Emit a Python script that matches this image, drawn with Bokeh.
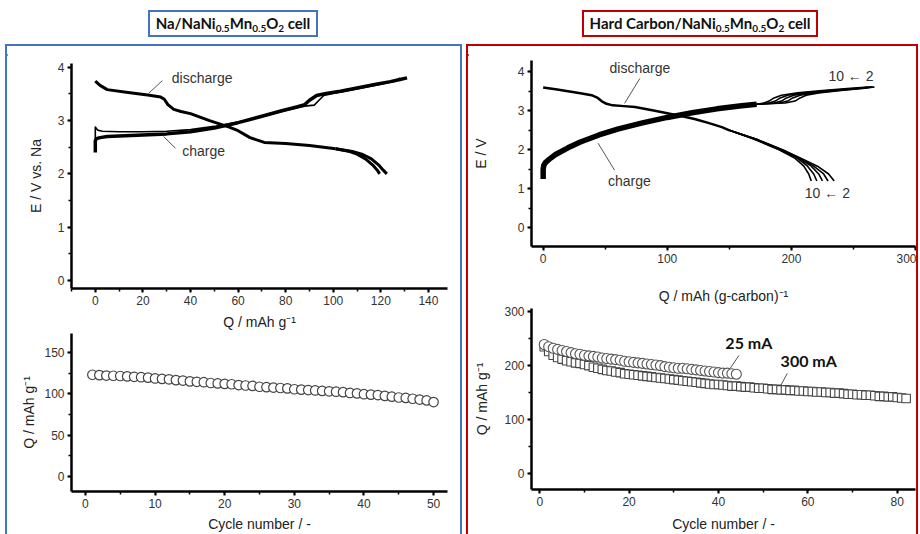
from bokeh.plotting import figure
from bokeh.models import Div, SingleIntervalTicker, Label, Range1d
from bokeh.layouts import column, row
from bokeh.embed import file_html
from bokeh.resources import INLINE

# ---------------- data ----------------
# panel a, top: Na / NaNi0.5Mn0.5O2 charge/discharge
dis_a_Q = [0, 2, 5, 13, 22, 27.5, 29, 30.5, 33, 36, 40, 48, 56, 60, 65, 71, 80, 90, 101]
dis_a_E = [3.74, 3.66, 3.58, 3.53, 3.48, 3.44, 3.40, 3.30, 3.21, 3.17, 3.13, 3.00, 2.88, 2.81, 2.68, 2.59, 2.57, 2.53, 2.47]
dis_a_tail_E = [2.47, 2.42, 2.37, 2.28, 2.17, 2.07, 2.00]
dis_a_tail_Q_first = [101, 108, 112, 116, 119, 121, 122.5]
dis_a_tail_Q_last = [101, 107, 110, 113.5, 116.5, 118.5, 119.5]

chg_a_Q = [0, 0, 0.5, 2, 5, 10, 20, 30, 40, 50, 60, 70, 78, 85, 88, 90, 93, 97, 103, 110, 118, 124, 128, 131]
chg_a_E = [2.40, 2.62, 2.66, 2.68, 2.70, 2.71, 2.73, 2.75, 2.79, 2.86, 2.96, 3.08, 3.18, 3.26, 3.30, 3.38, 3.47, 3.51, 3.55, 3.61, 3.68, 3.73, 3.77, 3.80]
chg_a1_Q = [0, 0, 1, 3, 10, 20, 30, 40, 50, 60, 70, 80, 88, 92, 94, 96, 100, 105, 112, 120, 126, 128]
chg_a1_E = [2.62, 2.88, 2.82, 2.80, 2.79, 2.79, 2.80, 2.83, 2.89, 2.97, 3.07, 3.19, 3.27, 3.29, 3.38, 3.47, 3.51, 3.55, 3.61, 3.68, 3.74, 3.80]

# panel a, bottom: capacity vs cycle
cyc_a = list(range(1, 51))
cap_a = [123, 122.5, 122, 121.8, 121.5, 121, 120.5, 120, 119.5, 118.5,
         118, 117.5, 116.5, 116, 115, 114.5, 114, 113, 112.5, 112,
         111.5, 110.5, 110, 109.5, 108.5, 108, 107.5, 107, 106.5, 105.5,
         105, 104.5, 104, 103.5, 103, 102.5, 102, 101, 100.5, 99.5,
         99, 98.5, 97.5, 96.5, 95.5, 95, 94, 93, 92, 90]

# panel b, top: hard carbon / NaNi0.5Mn0.5O2
dis_b_Q = [0, 10, 20, 30, 39, 44, 47, 51, 56, 65, 74, 90, 101, 112, 122, 133, 144, 150]
dis_b_E = [3.60, 3.55, 3.50, 3.45, 3.40, 3.33, 3.25, 3.18, 3.14, 3.12, 3.10, 3.00, 2.93, 2.86, 2.79, 2.69, 2.58, 2.50]
dis_b_tail_E = [2.50, 2.27, 2.00, 1.78, 1.58, 1.38, 1.20]
dis_b_tail_Q = {
    2: [150, 172, 193, 208, 221, 230, 234.5],
    4: [150, 172, 192, 207, 218, 226, 229.5],
    6: [150, 171, 192, 206, 216, 222, 225],
    8: [150, 171, 191, 205, 213, 218, 220.5],
    10: [150, 170, 190, 203, 210, 214, 216],
}
chg_b_Q = [0, 0, 0.5, 2, 5, 10, 20, 30, 45, 60, 80, 100, 120, 140, 160, 172]
chg_b_E = [1.25, 1.50, 1.60, 1.68, 1.76, 1.88, 2.05, 2.20, 2.38, 2.53, 2.69, 2.83, 2.95, 3.05, 3.13, 3.17]
chg_b_tail_E = [3.17, 3.20, 3.25, 3.33, 3.40, 3.46, 3.52, 3.57, 3.61]
chg_b_tail_Q = {
    2: [172, 195, 203, 207, 212, 222, 240, 257, 267],
    4: [172, 190, 197, 201, 207, 218, 237, 255, 266],
    6: [172, 186, 192, 196, 202, 214, 234, 253, 265],
    8: [172, 182, 187, 191, 197, 210, 230, 250, 264],
    10: [172, 178, 182, 186, 192, 205, 225, 245, 262],
}

# panel b, bottom: capacity vs cycle
cyc_25 = list(range(1, 45))
cap_25 = [239, 235, 232, 230, 228, 226, 224, 222, 221, 219,
          218, 217, 216, 214, 213, 212, 211, 210, 208, 207,
          206, 205, 204, 203, 202, 201, 200, 198, 197, 196,
          195, 195, 194, 193, 192, 191, 190, 189, 188, 187,
          186, 186, 185, 184]
cyc_300 = list(range(1, 83))
cap_300 = [235, 226, 219, 215, 212, 209, 207, 205, 204, 202,
           200, 197, 195, 193, 191, 190, 188, 187, 185, 184,
           183, 182, 181, 180, 179, 178, 177, 176, 175, 174,
           173, 172, 171, 170, 169, 168, 167, 166, 165, 165,
           164, 163, 162, 162, 161, 160, 160, 159, 158, 158,
           157, 156, 156, 155, 155, 154, 154, 153, 153, 152,
           152, 151, 151, 150, 150, 149, 149, 148, 147, 147,
           146, 146, 145, 145, 144, 143, 143, 142, 142, 141,
           140, 139]

title_a = "Na/NaNi<sub>0.5</sub>Mn<sub>0.5</sub>O<sub>2</sub> cell"
title_b = "Hard Carbon/NaNi<sub>0.5</sub>Mn<sub>0.5</sub>O<sub>2</sub> cell"

BLUE = "#4472C4"
RED = "#C00000"
FONT = "Liberation Sans"


def make_fig(w, h, xr, yr, ml, mr, mt, mb):
    p = figure(width=w, height=h, x_range=Range1d(*xr), y_range=Range1d(*yr),
               min_border_left=ml, min_border_right=mr, min_border_top=mt, min_border_bottom=mb,
               toolbar_location=None, output_backend="svg")
    p.grid.visible = False
    p.outline_line_color = None
    p.background_fill_color = "white"
    p.border_fill_color = "white"
    return p


def style_axes(p, xint, yint, xlabel, ylabel, xls, yls):
    p.xaxis.ticker = SingleIntervalTicker(interval=xint, num_minor_ticks=2)
    p.yaxis.ticker = SingleIntervalTicker(interval=yint, num_minor_ticks=2)
    p.xaxis.axis_label = xlabel
    p.yaxis.axis_label = ylabel
    p.xaxis.axis_label_standoff = xls
    p.yaxis.axis_label_standoff = yls
    for ax in (p.xaxis[0], p.yaxis[0]):
        ax.axis_line_width = 2.5
        ax.axis_line_color = "black"
        ax.major_tick_line_width = 2
        ax.major_tick_line_color = "black"
        ax.major_tick_out = 4
        ax.major_tick_in = 0
        ax.minor_tick_line_width = 1.5
        ax.minor_tick_line_color = "black"
        ax.minor_tick_out = 3
        ax.minor_tick_in = 0
        ax.major_label_text_font = FONT
        ax.major_label_text_font_size = "12px"
        ax.major_label_text_color = "#333333"
        ax.major_label_standoff = 3
        ax.axis_label_text_font = FONT
        ax.axis_label_text_font_size = "14px"
        ax.axis_label_text_font_style = "normal"
        ax.axis_label_text_color = "#222222"


def text(p, x, y, s, size="14px", bold=False, font=FONT, align="center", baseline="middle", color="#333333"):
    p.add_layout(Label(x=x, y=y, text=s, text_font=font, text_font_size=size,
                       text_font_style="bold" if bold else "normal", text_align=align,
                       text_baseline=baseline, text_color=color))


# ---------------- panel a top ----------------
pa1 = make_fig(453, 286, (-10, 148), (-0.15, 4.07), 64, 13, 17, 44)
style_axes(pa1, 20, 1, "Q / mAh g⁻¹", "E / V vs. Na", 6, 11)
pa1.line(chg_a1_Q, chg_a1_E, line_width=1.6, color="black", line_join="round")
pa1.line(chg_a_Q, chg_a_E, line_width=3.5, color="black", line_join="round")
pa1.line(dis_a_Q, dis_a_E, line_width=3, color="black", line_join="round")
pa1.line(dis_a_tail_Q_first, dis_a_tail_E, line_width=3, color="black", line_join="round")
pa1.line(dis_a_tail_Q_last, dis_a_tail_E, line_width=3, color="black", line_join="round")
text(pa1, 44.9, 3.80, "discharge")
text(pa1, 45.5, 2.42, "charge")
pa1.segment([28.2, 28.7], [3.75, 2.70], [22.4, 33.7], [3.51, 2.48], line_color="#555555", line_width=1)
text(pa1, -32.3, 3.79, "a)", size="28px", bold=True, font="Liberation Serif", align="left",
     baseline="alphabetic", color="black")

# ---------------- panel a bottom ----------------
pa2 = make_fig(453, 202, (-2, 52), (-18, 172.8), 64, 13, 1, 42)
style_axes(pa2, 10, 50, "Cycle number / -", "Q / mAh g⁻¹", 5, 4)
pa2.scatter(cyc_a, cap_a, marker="circle", size=9.5, fill_color="white", line_color="#444444", line_width=1.2)

# ---------------- panel b top ----------------
pb1 = make_fig(448, 260, (-9.4, 300), (-0.48, 4.29), 63, 1, 14, 59)
style_axes(pb1, 100, 1, "Q / mAh (g-carbon)⁻¹", "E / V", 22, 26)
pb1.line(chg_b_Q, chg_b_E, line_width=5.5, color="black", line_join="round")
for c, qs in chg_b_tail_Q.items():
    pb1.line(qs, chg_b_tail_E, line_width=1.6, color="black", line_join="round")
pb1.line(dis_b_Q, dis_b_E, line_width=2.5, color="black", line_join="round")
for c, qs in dis_b_tail_Q.items():
    pb1.line(qs, dis_b_tail_E, line_width=1.6, color="black", line_join="round")
text(pb1, 77.9, 4.11, "discharge")
text(pb1, 69.5, 1.19, "charge")
pb1.segment([77.9, 44.2], [3.83, 2.17], [65.6, 57.5], [3.19, 1.48], line_color="#555555", line_width=1)
text(pb1, 248, 3.88, "10 ← 2")
text(pb1, 229, 0.90, "10 ← 2")
text(pb1, -52.7, 3.83, "b)", size="28px", bold=True, font="Liberation Serif", align="left",
     baseline="alphabetic", color="black")

# ---------------- panel b bottom ----------------
pb2 = make_fig(448, 228, (-1.85, 84.1), (-29.5, 305.7), 62, 1, 2, 44)
style_axes(pb2, 20, 100, "Cycle number / -", "Q / mAh g⁻¹", 7, 11)
pb2.scatter(cyc_300, cap_300, marker="square", size=8.5, fill_color="white", line_color="#444444", line_width=1.1)
pb2.scatter(cyc_25, cap_25, marker="circle", size=10, fill_color="white", line_color="#555555", line_width=1.1)
text(pb2, 46.8, 243, "25 mA", size="16px", bold=True, font="Lato", color="#111111")
text(pb2, 60.2, 210, "300 mA", size="16px", bold=True, font="Lato", color="#111111")
pb2.segment([44.6, 55.4], [219, 185.5], [42.6, 54], [194.7, 164], line_color="#555555", line_width=1)

# ---------------- layout ----------------
box_css = ("position:absolute;top:10px;height:27px;box-sizing:border-box;display:flex;"
           "align-items:center;justify-content:center;font-weight:bold;font-size:15px;color:#111;"
           "font-family:Lato,'Open Sans',sans-serif;white-space:nowrap;")
sub_css = "font-size:10px;vertical-align:-3px;line-height:0;"
ta = title_a.replace("<sub>", f'<sub style="{sub_css}">')
tb = title_b.replace("<sub>", f'<sub style="{sub_css}">')
title_html = (
    '<div style="position:relative;width:920px;height:44px;">'
    f'<div style="{box_css}left:148px;width:170px;border:2px solid {BLUE};"><span>{ta}</span></div>'
    f'<div style="{box_css}left:582px;width:236px;border:2px solid {RED};"><span>{tb}</span></div>'
    '</div>'
)
title_div = Div(text=title_html, width=920, height=44, margin=0)


def bar(w, h, color):
    return Div(text=f'<div style="width:{w}px;height:{h}px;background:{color};"></div>',
               width=w, height=h, margin=0, styles={"background-color": color})


def blank(w, h):
    return Div(text="", width=w, height=h, margin=0)


PH = 490
panel_a = row(bar(2, PH, BLUE),
              column(bar(453, 2, BLUE), pa1, pa2, spacing=0),
              bar(2, PH, BLUE), spacing=0)
panel_b = row(bar(2, PH, RED),
              column(bar(448, 2, RED), pb1, pb2, spacing=0),
              bar(2, PH, RED), spacing=0)

root = column(title_div,
              row(blank(5, PH), panel_a, blank(4, PH), panel_b, blank(2, PH), spacing=0),
              spacing=0)

open("out.html", "w").write(file_html(root, INLINE))
